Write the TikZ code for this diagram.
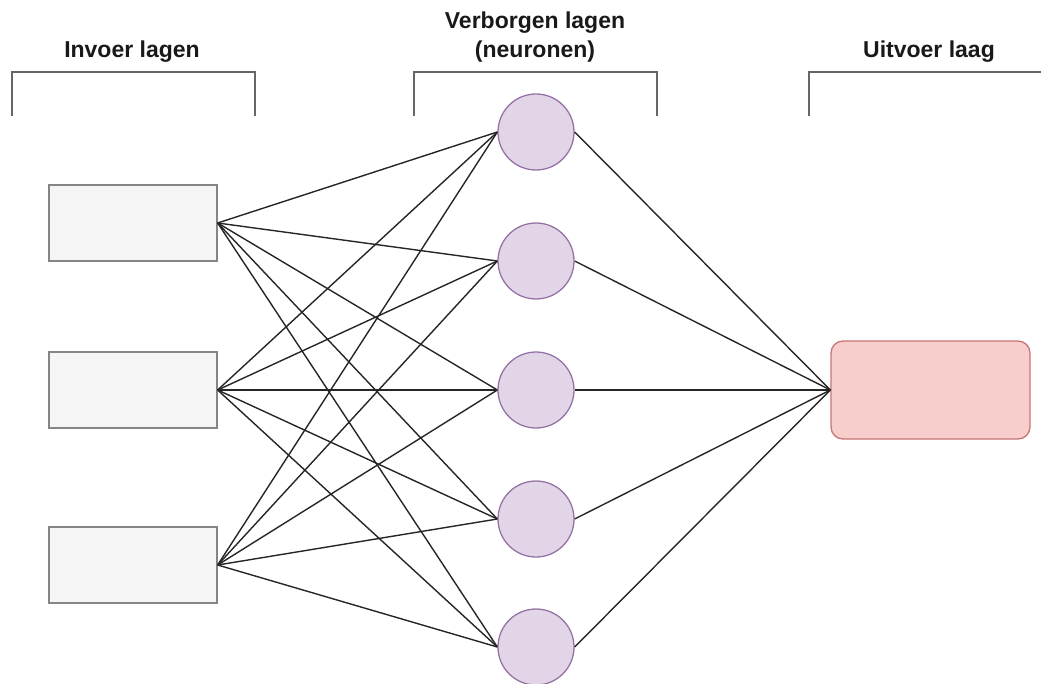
\documentclass[tikz,border=0pt]{standalone}
\usepackage{fontspec}
\setmainfont{Liberation Sans}
\usepackage{xcolor}
\usetikzlibrary{calc}
\definecolor{inFill}{HTML}{F5F5F5}
\definecolor{inLine}{HTML}{666666}
\definecolor{hidFill}{HTML}{E1D5E7}
\definecolor{hidLine}{HTML}{9673A6}
\definecolor{outFill}{HTML}{F8CECC}
\definecolor{outLine}{HTML}{B85450}
\begin{document}
\begin{tikzpicture}[x=1pt, y=-1pt,
inp/.style = {draw = inLine!80, fill = inFill, line width = 1.3pt, minimum width = 168pt, minimum height = 76pt, inner sep = 0pt},
hid/.style = {draw = hidLine, fill = hidFill, line width = 1.3pt, circle, minimum size = 76pt, inner sep = 0pt},
outp/.style = {draw = outLine!80, fill = outFill, line width = 1.3pt, rounded corners = 12pt, minimum width = 199pt, minimum height = 98pt, inner sep = 0pt},
lnk/.style = {line width = 1.4pt, black!85},
brk/.style = {line width = 1.8pt, black!60},
ttl/.style = {font = \bfseries\fontsize{23}{29}\selectfont, text = black!90, align = center, inner sep = 0pt}
]
\useasboundingbox (0,0) rectangle (1041,684);
% layers
\node[inp] (I1) at (133,223) {};
\node[inp] (I2) at (133,390) {};
\node[inp] (I3) at (133,565) {};
\foreach \n/\y in {1/132, 2/261, 3/390, 4/519, 5/647}{\node[hid] (H\n) at (536,\y) {};}
\node[outp] (O) at (930.5,390) {};
% links
\foreach \i in {1,2,3}{\foreach \j in {1,...,5}{\draw[lnk] (I\i.east) -- (H\j.west);}}
\foreach \j in {1,...,5}{\draw[lnk] (H\j.east) -- (O.west);}
% brackets
\draw[brk] (12,116) -- (12,72) -- (255,72) -- (255,116);
\draw[brk] (414,116) -- (414,72) -- (657,72) -- (657,116);
\draw[brk] (809,116) -- (809,72) -- (1050,72);
\node[ttl] (tIn) at (132,52) {Invoer lagen};
\node[ttl] (tHid) at (535,37) {Verborgen lagen\\(neuronen)};
\node[ttl] (tOut) at (929,52) {Uitvoer laag};
\end{tikzpicture}
\end{document}
